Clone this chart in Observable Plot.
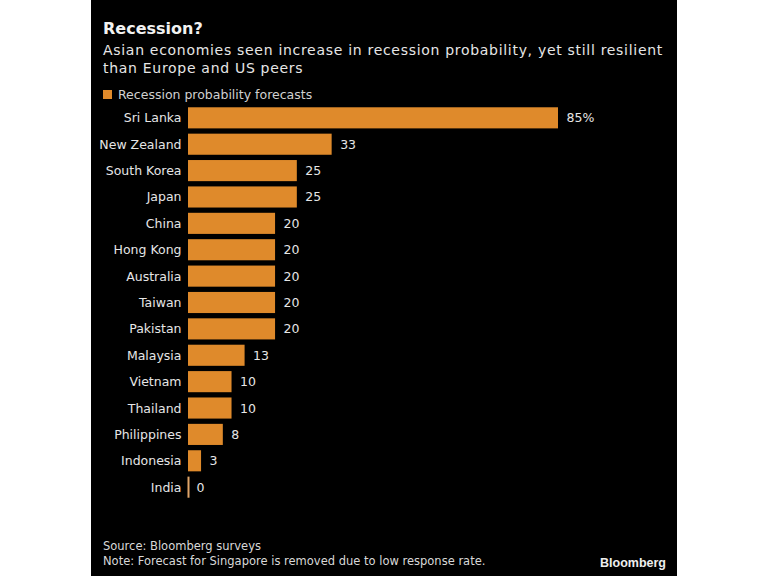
<!DOCTYPE html>
<html><head><meta charset="utf-8">
<script src="https://cdn.jsdelivr.net/npm/d3@7"></script>
<script src="https://cdn.jsdelivr.net/npm/@observablehq/plot@0.6"></script>
<style>
html,body{margin:0;padding:0;background:#fff;width:768px;height:576px;overflow:hidden;}
#panel{position:absolute;left:91px;top:0;width:586px;height:576px;background:#000;font-family:"DejaVu Sans",sans-serif;color:#e6e6e6;}
#title{position:absolute;left:12px;top:19px;font-size:16px;font-weight:bold;color:#f2f2f2;}
#sub{position:absolute;left:12px;top:41px;font-size:14px;letter-spacing:0.7px;line-height:18px;width:572px;color:#e6e6e6;}
#legend{position:absolute;left:12px;top:87px;font-size:12.5px;color:#d0d0d0;display:flex;align-items:center;}
#legend span.sw{display:inline-block;width:9px;height:9px;background:#df8a2b;margin-right:6px;}
#chart{position:absolute;left:0;top:88px;}
#foot{position:absolute;left:12px;top:539px;font-size:11.5px;line-height:15px;color:#d8d8d8;}
#logo{position:absolute;left:509px;top:556px;font-family:"Liberation Sans",Arial,sans-serif;font-weight:bold;font-size:12.5px;color:#eee;}
</style></head>
<body>
<div id="panel">
  <div id="title">Recession?</div>
  <div id="sub">Asian economies seen increase in recession probability, yet still resilient than Europe and US peers</div>
  <div id="legend"><span class="sw"></span>Recession probability forecasts</div>
  <div id="chart"></div>
  <div id="foot">Source: Bloomberg surveys<br>Note: Forecast for Singapore is removed due to low response rate.</div>
  <div id="logo">Bloomberg</div>
</div>
<script>
const countries = ["Sri Lanka","New Zealand","South Korea","Japan","China","Hong Kong","Australia","Taiwan","Pakistan","Malaysia","Vietnam","Thailand","Philippines","Indonesia","India"];
const values = [85,33,25,25,20,20,20,20,20,13,10,10,8,3,0];
const labels = ["85%","33","25","25","20","20","20","20","20","13","10","10","8","3","0"];

const data = countries.map((c,i)=>({country:c, value:values[i], label:labels[i]}));
const barColor = "#df8a2b";

const chart = Plot.plot({
  width: 586,
  height: 424,
  marginLeft: 97,
  marginRight: 119,
  marginTop: 14,
  marginBottom: 9,
  style: {background: "transparent", fontFamily: "DejaVu Sans, sans-serif", fontSize: "12.5px", color: "#e6e6e6"},
  x: {domain: [0, 85], axis: null},
  y: {domain: countries, padding: 0.2, round: false, label: null, tickSize: 0, tickPadding: 7},
  marks: [
    Plot.barX(data, {x: "value", y: "country", fill: barColor}),
    Plot.tickX(data.filter(d => d.value === 0), {x: "value", y: "country", stroke: "#e0a468", strokeWidth: 2}),
    Plot.text(data, {x: "value", y: "country", text: "label", textAnchor: "start", dx: 8, fill: "#e6e6e6", fontSize: 12.5}),
    Plot.axisY({tickSize: 0, tickPadding: 7, fill: "#e6e6e6", fontSize: 12.5, label: null})
  ]
});
document.getElementById("chart").appendChild(chart);
</script>
</body></html>
